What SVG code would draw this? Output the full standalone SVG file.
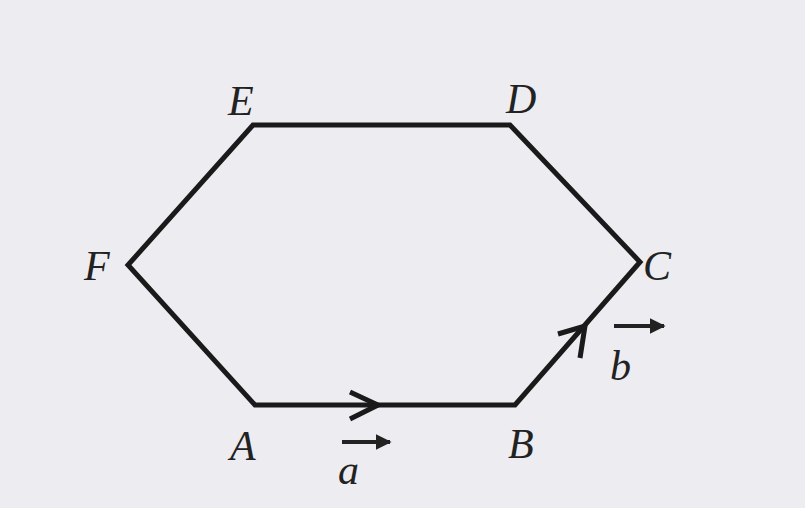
<svg xmlns="http://www.w3.org/2000/svg" width="805" height="508" viewBox="0 0 805 508">
<style>
.edge{fill:none;stroke:#1a1a1a;stroke-width:5;stroke-linejoin:miter}
.chev{fill:none;stroke:#1a1a1a;stroke-width:5}
.lbl{font-family:"Liberation Serif",serif;font-style:italic;font-size:42px;fill:#222}
.vec{fill:none;stroke:#222;stroke-width:4}
</style>
<defs>
<marker id="ah" viewBox="0 0 10 10" refX="9" refY="5" markerWidth="4" markerHeight="4" orient="auto" markerUnits="strokeWidth">
<path d="M0,0 L10,5 L0,10 z" fill="#222"/>
</marker>
</defs>
<rect width="805" height="508" fill="#ececf1"/>
<g id="connectors">
<polygon class="edge" points="255,405 515,405 640,262 510,125 253,125 128,265"/>
<polyline class="chev" points="350,392 378,405 350,419"/>
<polyline class="chev" points="558,334 585,326 580,358"/>
</g>
<g id="node-E"><text class="lbl" x="228" y="115">E</text></g>
<g id="node-D"><text class="lbl" x="506" y="113">D</text></g>
<g id="node-F"><text class="lbl" x="84" y="280">F</text></g>
<g id="node-C"><text class="lbl" x="643" y="280">C</text></g>
<g id="node-A"><text class="lbl" x="230" y="460">A</text></g>
<g id="node-B"><text class="lbl" x="508" y="458">B</text></g>
<g id="label-a">
<line class="vec" x1="342" y1="442" x2="390" y2="442" marker-end="url(#ah)"/>
<text class="lbl" x="338" y="484">a</text>
</g>
<g id="label-b">
<line class="vec" x1="614" y1="326" x2="664" y2="326" marker-end="url(#ah)"/>
<text class="lbl" x="610" y="380">b</text>
</g>
</svg>
